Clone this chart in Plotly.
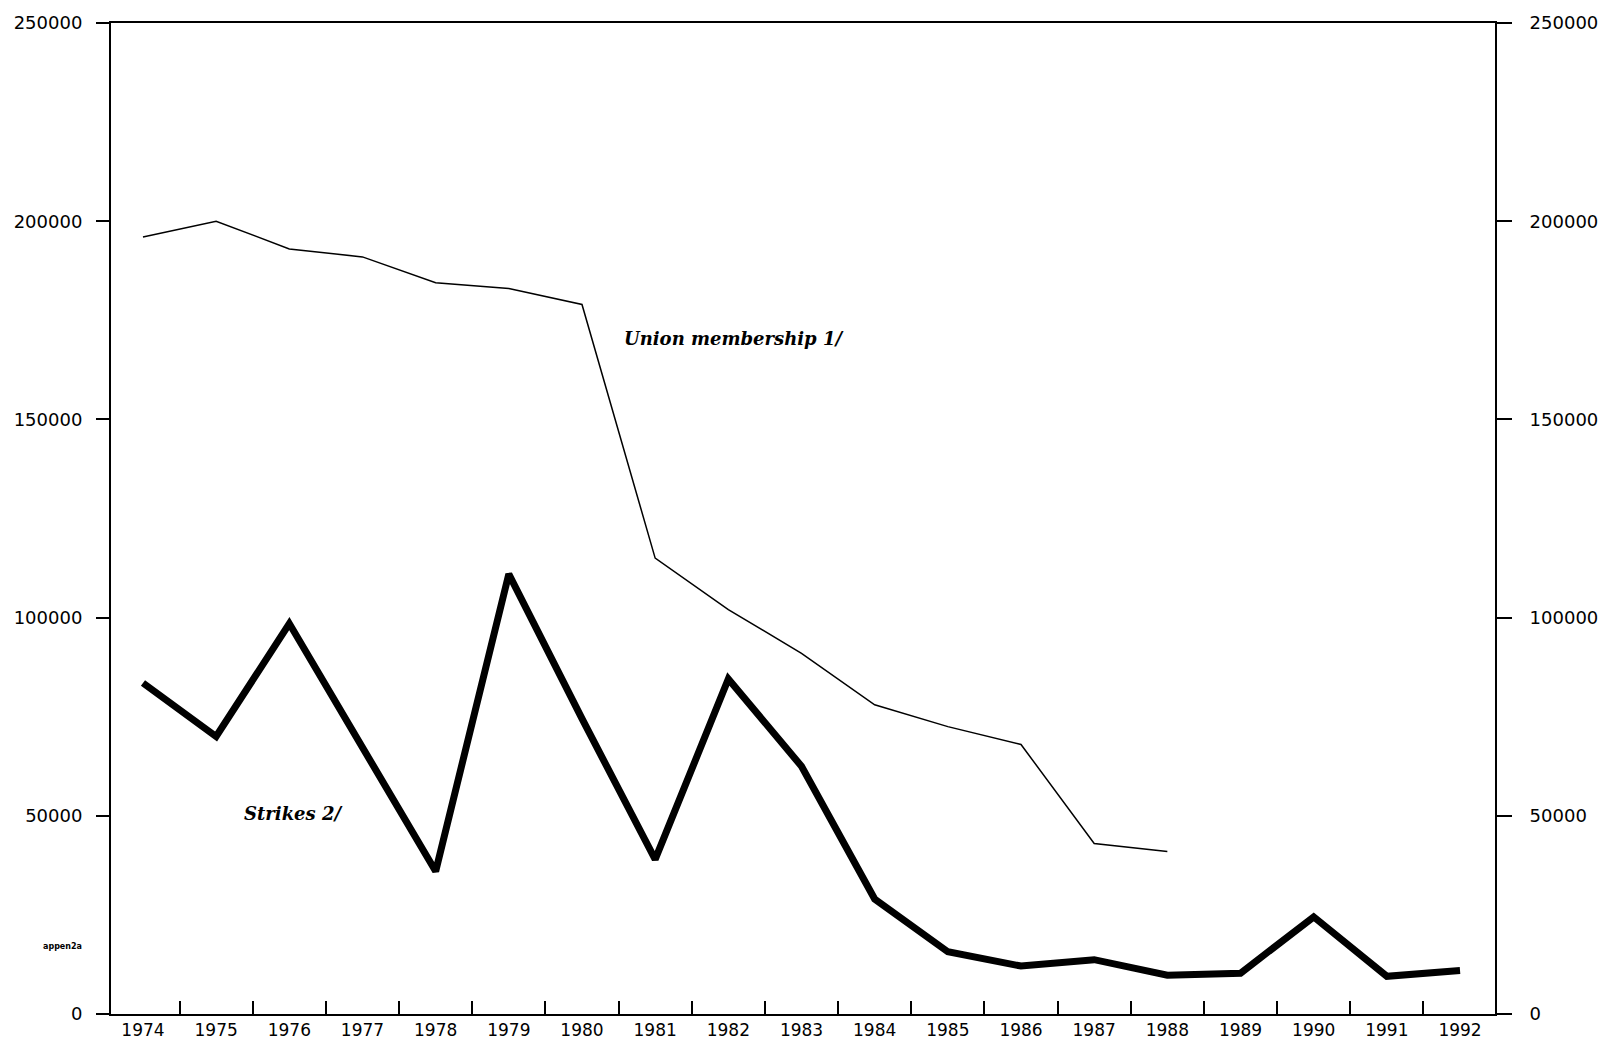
import plotly.graph_objects as go

years = list(range(1974, 1993))
union_years = list(range(1974, 1989))
union_membership = [196000, 200000, 193000, 191000, 184500, 183000, 179000, 115000,
                    102000, 91000, 78000, 72500, 68000, 43000, 41000]
strikes = [83500, 70000, 98500, 67000, 36000, 111000, 74500, 39000, 84500, 62500,
           29000, 15700, 12100, 13700, 9800, 10300, 24500, 9500, 11000]
y_ticks = [0, 50000, 100000, 150000, 200000, 250000]
y_tick_labels = ["0", "50000", "100000", "150000", "200000", "250000"]
x_tick_labels = [str(y) for y in years]
boundary_ticks = [y + 0.5 for y in years[:-1]]

FONT = "DejaVu Sans"
XR = [1973.563, 1992.478]

fig = go.Figure()
fig.add_trace(go.Scatter(x=union_years, y=union_membership, mode="lines",
                         line=dict(color="black", width=1.5), showlegend=False))
fig.add_trace(go.Scatter(x=years, y=strikes, mode="lines",
                         line=dict(color="black", width=7), showlegend=False))
# invisible trace to activate the right axis
fig.add_trace(go.Scatter(x=years, y=strikes, yaxis="y2", mode="lines",
                         line=dict(color="rgba(0,0,0,0)", width=0),
                         hoverinfo="skip", showlegend=False))
# invisible trace for boundary tick axis
fig.add_trace(go.Scatter(x=years, y=strikes, xaxis="x2", mode="lines",
                         line=dict(color="rgba(0,0,0,0)", width=0),
                         hoverinfo="skip", showlegend=False))

fig.update_layout(
    width=1610, height=1052,
    margin=dict(l=111, r=113, t=19, b=37),
    paper_bgcolor="white", plot_bgcolor="white",
    font=dict(family=FONT, size=17, color="black"),
    xaxis=dict(range=XR, tickmode="array", tickvals=years, ticktext=x_tick_labels,
               ticks="", showgrid=False, zeroline=False,
               showline=True, linecolor="black", linewidth=2, mirror=True,
               tickfont=dict(family=FONT, size=17)),
    xaxis2=dict(range=XR, overlaying="x", tickmode="array", tickvals=boundary_ticks,
                ticks="inside", ticklen=13, tickwidth=1.5, tickcolor="black",
                showticklabels=False, showgrid=False, zeroline=False, side="bottom",
                showline=False),
    yaxis=dict(range=[0, 250000], tickmode="array", tickvals=y_ticks, ticktext=y_tick_labels,
               ticks="outside", ticklen=13, tickwidth=2, tickcolor="black",
               showgrid=False, zeroline=False, showline=True, linecolor="black", linewidth=2,
               ticklabelstandoff=10, tickfont=dict(family=FONT, size=18)),
    yaxis2=dict(range=[0, 250000], overlaying="y", side="right", tickmode="array",
                tickvals=y_ticks, ticktext=y_tick_labels,
                ticks="outside", ticklen=15, tickwidth=2, tickcolor="black",
                showgrid=False, zeroline=False, showline=True, linecolor="black", linewidth=2,
                ticklabelstandoff=14, tickfont=dict(family=FONT, size=18)),
    annotations=[
        dict(x=1980.55, y=170500, xref="x", yref="y", text="<b><i>Union membership 1/</i></b>",
             showarrow=False, xanchor="left", yanchor="middle",
             font=dict(family="DejaVu Serif", size=18, color="black")),
        dict(x=1975.35, y=50500, xref="x", yref="y", text="<b><i>Strikes 2/</i></b>",
             showarrow=False, xanchor="left", yanchor="middle",
             font=dict(family="DejaVu Serif", size=18, color="black")),
        dict(x=-0.035, y=17000, xref="paper", yref="y", text="<b>appen2a</b>",
             showarrow=False, xanchor="center", yanchor="middle",
             font=dict(family=FONT, size=8, color="black")),
    ],
)

fig.write_html("out.html", post_script="document.body.style.margin='0';",
               config={"displayModeBar": False})
